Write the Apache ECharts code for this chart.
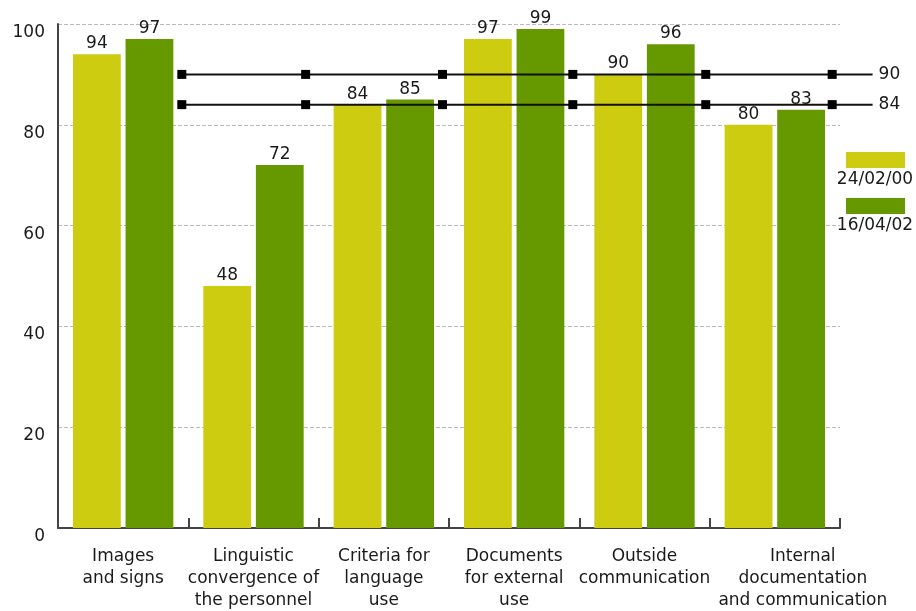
<!DOCTYPE html>
<html>
<head>
<meta charset="utf-8">
<style>
  html, body { margin: 0; padding: 0; background: #fff; }
  #chart { width: 916px; height: 611px; }
</style>
<script src="https://cdn.jsdelivr.net/npm/echarts@6/dist/echarts.min.js"></script>
</head>
<body>
<div id="chart"></div>
<script>
// Categories (label lines split by \n)
const categories = [
  'Images\nand signs',
  'Linguistic\nconvergence of\nthe personnel',
  'Criteria for\nlanguage\nuse',
  'Documents\nfor external\nuse',
  'Outside\ncommunication',
  'Internal\ndocumentation\nand communication'
];
const seriesNames = ['24/02/00', '16/04/02'];
const values2000 = [94, 48, 84, 97, 90, 80];
const values2002 = [97, 72, 85, 99, 96, 83];

// Reference levels, drawn as marked horizontal lines
const refLevels = [90, 84];
// Marker positions along the category span (in category units)
const refStops = [0.95, 1.9, 2.95, 3.95, 4.97, 5.94];
const refEnd = 6.25;

const yTicks = [0, 20, 40, 60, 80, 100];

const colors = ['#cecc10', '#669900'];
const textColor = '#1a1a1a';
const font = 'DejaVu Sans';
const fontSize = 17;

// Main plot box
const plotLeft = 58, plotRight = 76, plotTop = 24, plotBottom = 83;
const chartWidth = 916;
const categoryCount = categories.length;
// Overlay grid for the reference lines: same unit scale as the categories,
// stretched so it reaches refEnd
const unitPx = (chartWidth - plotLeft - plotRight) / categoryCount;
const overlayRight = chartWidth - plotLeft - unitPx * refEnd;

const chart = echarts.init(document.getElementById('chart'), null, { renderer: 'canvas' });

const barSeries = [values2000, values2002].map((vals, i) => ({
  name: seriesNames[i],
  type: 'bar',
  xAxisIndex: 0,
  yAxisIndex: 0,
  data: vals,
  barGap: '10%',
  barCategoryGap: '23%',
  itemStyle: { color: colors[i] },
  label: {
    show: true,
    position: 'top',
    distance: 2,
    color: textColor,
    fontFamily: font,
    fontSize: fontSize
  },
  z: 2
}));

const lineSeries = refLevels.map(level => ({
  name: String(level),
  type: 'line',
  xAxisIndex: 1,
  yAxisIndex: 1,
  clip: false,
  data: refStops.map(x => ({ value: [x, level] }))
    .concat([{ value: [refEnd, level], symbolSize: 0,
      label: { show: true, position: 'right', distance: 6, formatter: String(level),
               color: textColor, fontFamily: font, fontSize: fontSize } }]),
  symbol: 'rect',
  symbolSize: 9,
  itemStyle: { color: '#000' },
  lineStyle: { color: '#111', width: 2 },
  label: { show: false },
  emphasis: { disabled: true },
  z: 5
}));

// Legend drawn as swatch + caption beneath
const legendGraphics = [];
seriesNames.forEach((name, i) => {
  const top = 152 + i * 46;
  legendGraphics.push({
    type: 'rect',
    shape: { x: 846, y: top, width: 59, height: 16 },
    style: { fill: colors[i] }
  });
  legendGraphics.push({
    type: 'text',
    x: 875, y: top + 28,
    style: {
      text: name, fill: textColor, font: fontSize + 'px "' + font + '"',
      align: 'center', verticalAlign: 'middle'
    }
  });
});

chart.setOption({
  animation: false,
  backgroundColor: '#fff',
  textStyle: { fontFamily: font },
  grid: [
    { left: plotLeft, right: plotRight, top: plotTop, bottom: plotBottom,
      containLabel: false, outerBoundsMode: 'none' },
    { left: plotLeft, right: overlayRight, top: plotTop, bottom: plotBottom,
      containLabel: false, outerBoundsMode: 'none' }
  ],
  xAxis: [
    {
      type: 'category',
      gridIndex: 0,
      data: categories,
      axisLine: { lineStyle: { color: '#444', width: 2 } },
      axisTick: { show: true, inside: true, length: 10, lineStyle: { color: '#444', width: 2 } },
      axisLabel: {
        color: textColor,
        fontFamily: font,
        fontSize: fontSize,
        lineHeight: 22,
        margin: 18,
        interval: 0,
        formatter: (val, idx) => {
          if (idx === categories.length - 1) {
            return val.split('\n').map(l => '{s|' + l + '}').join('\n');
          }
          return val;
        },
        rich: {
          s: { padding: [0, 0, 0, 56], fontSize: fontSize, lineHeight: 22, color: textColor, fontFamily: font }
        }
      },
      splitLine: { show: false }
    },
    {
      type: 'value',
      gridIndex: 1,
      min: 0,
      max: refEnd,
      show: false
    }
  ],
  yAxis: [
    {
      type: 'value',
      gridIndex: 0,
      min: 0,
      max: 100,
      interval: 20,
      axisLine: { show: true, lineStyle: { color: '#444', width: 2 } },
      axisTick: { show: false },
      axisLabel: {
        color: textColor,
        fontFamily: font,
        fontSize: fontSize,
        margin: 13,
        verticalAlign: 'top',
        formatter: v => yTicks.includes(v) ? String(v) : ''
      },
      splitLine: { show: true, lineStyle: { color: '#bbb', type: [4, 2], width: 1 } }
    },
    {
      type: 'value',
      gridIndex: 1,
      min: 0,
      max: 100,
      show: false
    }
  ],
  series: barSeries.concat(lineSeries),
  graphic: legendGraphics
});
</script>
</body>
</html>
